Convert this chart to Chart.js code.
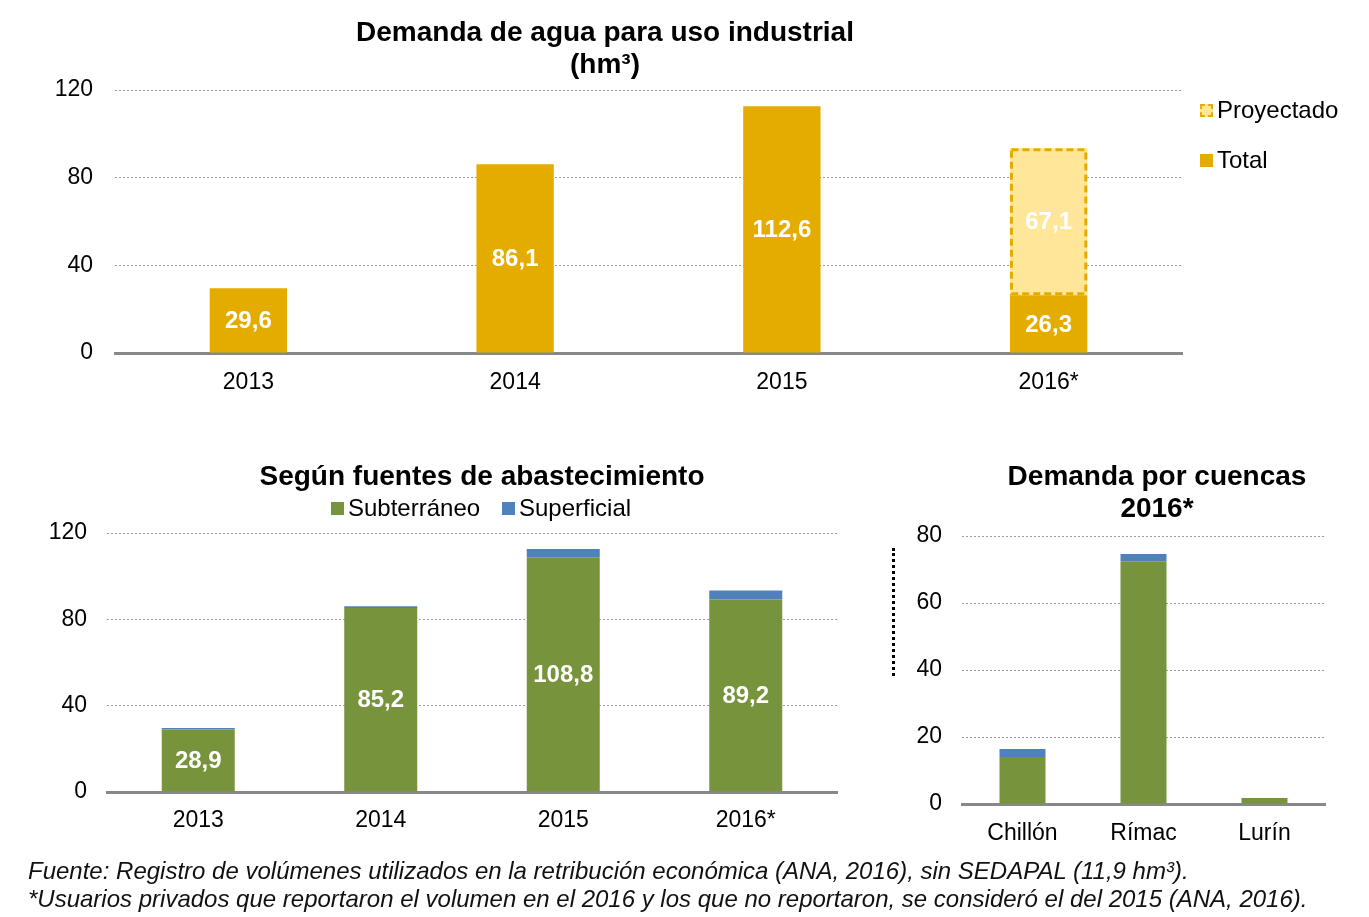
<!DOCTYPE html>
<html>
<head>
<meta charset="utf-8">
<script src="https://cdn.jsdelivr.net/npm/chart.js@4"></script>
<style>
  body { margin: 0; background: #fff; font-family: "Liberation Sans", Arial, sans-serif; color: #000; }
  #wrap { position: relative; width: 1369px; height: 917px; overflow: hidden; }
  canvas { position: absolute; }
  .title { position: absolute; width: 700px; text-align: center; font-weight: bold; font-size: 28px; line-height: 32px; }
  .leg { position: absolute; font-size: 24px; line-height: 28px; white-space: nowrap; }
  .sw { display: inline-block; width: 13px; height: 13px; margin-right: 4px; vertical-align: 1px; box-sizing: border-box; }
  #note { position: absolute; left: 28px; top: 857px; font-size: 24px; line-height: 28px; font-style: italic; color: #111; white-space: nowrap; }
  #dots { position: absolute; left: 892px; top: 548px; height: 128px; border-left: 3px dotted #000; }
</style>
</head>
<body>
<div id="wrap">
  <canvas id="c1" width="1369" height="410" style="left:0;top:0"></canvas>
  <canvas id="c2" width="870" height="430" style="left:0;top:420px"></canvas>
  <canvas id="c3" width="499" height="440" style="left:870px;top:420px"></canvas>

  <div class="title" style="left:255px;top:16px">Demanda de agua para uso industrial<br>(hm³)</div>
  <div class="leg" style="left:1200px;top:96px"><span class="sw" style="background:#FFE699;border:2px dashed #E5AC00"></span>Proyectado</div>
  <div class="leg" style="left:1200px;top:146px"><span class="sw" style="background:#E5AC00"></span>Total</div>

  <div class="title" style="left:132px;top:460px">Según fuentes de abastecimiento</div>
  <div class="leg" style="left:331px;top:494px"><span class="sw" style="background:#77933C"></span>Subterráneo</div>
  <div class="leg" style="left:502px;top:494px"><span class="sw" style="background:#4F81BD"></span>Superficial</div>

  <div class="title" style="left:807px;top:460px">Demanda por cuencas<br>2016*</div>
  <div id="dots"></div>

  <div id="note">Fuente: Registro de volúmenes utilizados en la retribución económica (ANA, 2016), sin SEDAPAL (11,9 hm³).<br>*Usuarios privados que reportaron el volumen en el 2016 y los que no reportaron, se consideró el del 2015 (ANA, 2016).</div>
</div>
<script>
// datos
const years = ['2013', '2014', '2015', '2016*'];
const totalVals = [29.6, 86.1, 112.6, 26.3];
const projVals = [null, null, null, 67.1];
const subVals = [28.9, 85.2, 108.8, 89.2];
const supVals = [0.7, 0.9, 3.8, 4.2];
const basins = ['Chillón', 'Rímac', 'Lurín'];
const basinSub = [14.0, 72.5, 1.8];
const basinSup = [2.4, 2.1, 0];

const FONT = '"Liberation Sans", Arial, sans-serif';
const gold = '#E5AC00';

// etiquetas blancas dentro de las barras
const barLabels = {
  id: 'barLabels',
  afterDatasetsDraw(chart) {
    const ctx = chart.ctx;
    chart.data.datasets.forEach((ds, i) => {
      if (!ds.showLabel) return;
      chart.getDatasetMeta(i).data.forEach((el, j) => {
        const v = ds.data[j];
        if (v == null) return;
        ctx.save();
        ctx.fillStyle = '#fff';
        ctx.font = 'bold 24px ' + FONT;
        ctx.textAlign = 'center';
        ctx.textBaseline = 'middle';
        ctx.fillText(v.toFixed(1).replace('.', ','), el.x, (el.y + el.base) / 2 + 1);
        ctx.restore();
      });
    });
  }
};

// borde discontinuo para la barra proyectada
const dashedBar = {
  id: 'dashedBar',
  afterDatasetsDraw(chart) {
    const ctx = chart.ctx;
    chart.data.datasets.forEach((ds, i) => {
      if (!ds.dashed) return;
      chart.getDatasetMeta(i).data.forEach((el, j) => {
        if (ds.data[j] == null) return;
        ctx.save();
        ctx.strokeStyle = gold;
        ctx.lineWidth = 3;
        ctx.setLineDash([7, 4]);
        ctx.strokeRect(el.x - el.width / 2 + 1.5, el.y + 1.5, el.width - 3, el.base - el.y - 3);
        ctx.restore();
      });
    });
  }
};

function scalesFor(max, step, yWidth, yPad, xHeight, xPad) {
  return {
    x: {
      stacked: true,
      grid: { display: false, drawTicks: false },
      border: { display: true, color: '#888', width: 3 },
      ticks: { color: '#000', font: { family: FONT, size: 23 }, padding: xPad },
      afterFit: s => { s.height = xHeight; }
    },
    y: {
      stacked: true,
      min: 0, max: max,
      grid: {
        drawTicks: false,
        color: c => c.tick && c.tick.value === 0 ? 'rgba(0,0,0,0)' : '#9a9a9a',
        lineWidth: 1
      },
      border: { display: false, dash: [2, 2] },
      ticks: { stepSize: step, color: '#000', font: { family: FONT, size: 23 }, padding: yPad },
      afterFit: s => { s.width = yWidth; }
    }
  };
}

const common = {
  responsive: false,
  animation: false,
  plugins: { legend: { display: false }, tooltip: { enabled: false }, title: { display: false } }
};

new Chart(document.getElementById('c1'), {
  type: 'bar',
  data: {
    labels: years,
    datasets: [
      { label: 'Total', data: totalVals, backgroundColor: gold, barPercentage: 0.29, categoryPercentage: 1, showLabel: true },
      { label: 'Proyectado', data: projVals, backgroundColor: '#FFE699', barPercentage: 0.29, categoryPercentage: 1, showLabel: true, dashed: true }
    ]
  },
  options: Object.assign({}, common, {
    layout: { padding: { left: 0, right: 187, top: 90, bottom: 0 } },
    scales: scalesFor(120, 40, 115, 22, 57, 16)
  }),
  plugins: [dashedBar, barLabels]
});

new Chart(document.getElementById('c2'), {
  type: 'bar',
  data: {
    labels: years,
    datasets: [
      { label: 'Subterráneo', data: subVals, backgroundColor: '#77933C', barPercentage: 0.4, categoryPercentage: 1, showLabel: true },
      { label: 'Superficial', data: supVals, backgroundColor: '#4F81BD', barPercentage: 0.4, categoryPercentage: 1 }
    ]
  },
  options: Object.assign({}, common, {
    layout: { padding: { left: 0, right: 33, top: 113, bottom: 0 } },
    scales: scalesFor(120, 40, 107, 20, 58, 15)
  }),
  plugins: [barLabels]
});

new Chart(document.getElementById('c3'), {
  type: 'bar',
  data: {
    labels: basins,
    datasets: [
      { label: 'Subterráneo', data: basinSub, backgroundColor: '#77933C', barPercentage: 0.38, categoryPercentage: 1 },
      { label: 'Superficial', data: basinSup, backgroundColor: '#4F81BD', barPercentage: 0.38, categoryPercentage: 1 }
    ]
  },
  options: Object.assign({}, common, {
    layout: { padding: { left: 0, right: 44, top: 116, bottom: 0 } },
    scales: scalesFor(80, 20, 92, 20, 56, 16)
  })
});
</script>
</body>
</html>
